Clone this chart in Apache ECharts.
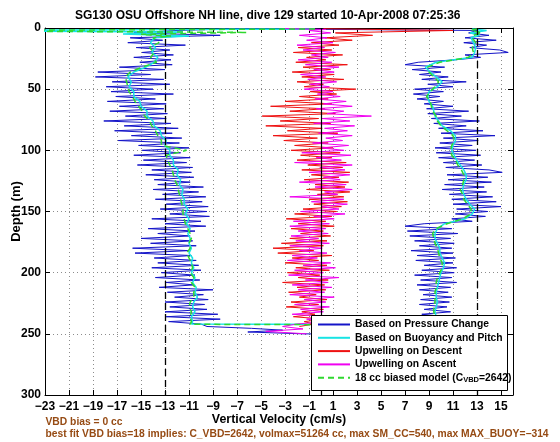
<!DOCTYPE html>
<html>
<head>
<meta charset="utf-8">
<script src="https://cdn.jsdelivr.net/npm/echarts@6/dist/echarts.min.js"></script>
<style>
html,body{margin:0;padding:0;background:#fff;}
#chart{width:560px;height:442px;}
</style>
</head>
<body>
<div id="chart"></div>
<script>
// ---------- data ----------
const titleText = 'SG130 OSU Offshore NH line, dive 129 started 10-Apr-2008 07:25:36';
const seriesNames = ['Based on Pressure Change', 'Based on Buoyancy and Pitch', 'Upwelling on Descent', 'Upwelling on Ascent', '18 cc biased model (C_VBD=2642)'];
const xTicks = [-23,-21,-19,-17,-15,-13,-11,-9,-7,-5,-3,-1,1,3,5,7,9,11,13,15];
const refLines = [-13, 13];

// fine depth grid (m) for the pressure-based and upwelling traces
const depthsFine = [2,4,6,8,10,12,14,16,18,20,
 22,24,26,28,30,32,34,36,38,40,
 42,44,46,48,50,52,54,56,58,60,
 62,64,66,68,70,72,74,76,78,80,
 82,84,86,88,90,92,94,96,98,100,
 102,104,106,108,110,112,114,116,118,120,
 122,124,126,128,130,132,134,136,138,140,
 142,144,146,148,150,152,154,156,158,160,
 162,164,166,168,170,172,174,176,178,180,
 182,184,186,188,190,192,194,196,198,200,
 202,204,206,208,210,212,214,216,218,220,
 222,224,226,228,230,232,234,236,238,240,
 242];
// coarse depth grid (m) for the model traces
const depthsCoarse = [8,12,16,20,24,28,32,36,40,44,
 48,52,56,60,64,68,72,76,80,84,
 88,92,96,100,104,108,112,116,120,124,
 128,132,136,140,144,148,152,156,160,164,
 168,172,176,180,184,188,192,196,200,204,
 208,212,216,220,224,228,232,236,240];

// Based on Pressure Change (cm/s)
const blueTopDepth = [0.6], blueTopVel = [-7.0];
const blueDown = [-12.0,-15.6,-8.4,-15.9,-13.2,-16.1,-11.3,-15.4,-12.6,-14.9,
 -12.3,-15.6,-12.5,-15.1,-12.4,-16.8,-13.0,-18.6,-14.2,-18.8,
 -13.1,-17.4,-12.6,-17.9,-14.0,-17.5,-12.3,-17.1,-13.8,-17.8,
 -12.9,-16.8,-13.1,-17.6,-12.8,-16.3,-12.9,-18.1,-12.5,-16.4,
 -11.9,-17.2,-12.4,-15.8,-11.6,-16.9,-11.8,-15.2,-11.0,-14.9,
 -11.7,-15.6,-10.9,-14.8,-11.2,-15.3,-10.7,-14.1,-10.8,-14.6,
 -10.6,-13.9,-10.9,-13.6,-9.8,-14.0,-10.2,-13.2,-9.6,-13.8,
 -9.9,-12.9,-9.4,-13.4,-9.5,-12.6,-9.3,-14.1,-10.0,-13.0,
 -9.6,-14.4,-10.5,-13.6,-10.9,-15.0,-10.7,-14.2,-10.4,-15.7,
 -11.0,-15.5,-10.8,-13.9,-10.4,-13.6,-10.2,-14.1,-10.0,-13.3,
 -10.5,-13.8,-10.1,-12.9,-10.6,-13.5,-9.0,-12.8,-9.8,-12.2,
 -9.4,-13.0,-9.7,-12.6,-9.5,-13.0,-8.6,-12.9,-8.4,-12.7,
 -10.0];
const blueBottomDepth = [244,245.5,247,248.5,250,250.5,249,246.5,244];
const blueBottomVel = [-9.5,-5.8,-3.2,-6.1,-1.5,3.5,7.5,9.6,8.6];
const blueUp = [13.0,12.3,14.0,12.0,14.6,11.9,13.8,12.4,14.9,15.6,
 12.0,13.3,11.2,8.1,7.0,10.3,7.6,10.0,8.2,10.6,
 8.4,12.1,8.9,11.0,7.8,10.2,7.7,9.9,8.0,10.2,
 8.6,11.0,8.8,12.3,8.9,11.7,9.2,13.2,9.4,12.1,
 9.8,13.5,10.0,14.5,10.2,13.1,9.9,12.6,9.5,12.9,
 9.6,13.3,9.8,12.8,10.2,13.4,10.4,14.0,15.1,10.5,
 13.9,10.6,14.2,10.3,13.6,10.1,13.8,10.7,14.3,10.9,
 14.6,11.0,15.0,11.3,13.9,11.2,13.7,10.9,12.6,8.6,
 7.0,10.9,7.2,11.4,7.4,10.8,7.8,11.1,8.2,10.9,
 7.5,11.0,8.0,11.2,7.9,11.0,8.6,11.3,8.4,11.1,
 7.8,10.9,8.3,11.3,8.0,10.8,8.2,10.6,8.5,10.9,
 8.3,10.7,8.2,10.5,8.6,10.8,8.4,10.4,8.7,10.2,
 9.0];
const blueEndDepth = [0.6], blueEndVel = [-7.0];

// Based on Buoyancy and Pitch (cm/s)
const cyanTopDepth = [0.8,2.0,3.2,5.0,6.5], cyanTopVel = [-0.5,-35,-11.5,-16.5,-11.0];
const cyanDown = [-13.9,-14.2,-13.8,-14.1,-13.6,-13.9,-14.6,-15.6,-16.1,-15.8,
 -16.0,-15.6,-15.6,-15.1,-15.0,-14.5,-14.5,-14.0,-13.9,-13.4,
 -13.3,-12.9,-13.0,-12.6,-12.6,-12.3,-12.3,-11.9,-12.0,-11.7,
 -11.8,-11.5,-11.6,-11.4,-11.4,-11.1,-11.3,-11.0,-11.2,-10.9,
 -11.1,-10.9,-11.0,-10.8,-11.0,-10.7,-10.8,-10.6,-10.8,-10.5,
 -10.7,-10.4,-10.5,-10.3,-10.6,-10.7,-10.5,-10.8,-10.7];
const cyanBottomDepth = [242,242.6], cyanBottomVel = [-10.8,9.4];
const cyanUp = [12.5,12.7,12.9,12.8,12.6,9.6,8.7,9.1,9.6,10.1,
 9.7,9.0,8.9,9.0,9.3,9.4,9.5,9.8,10.1,10.8,
 11.2,11.2,11.0,10.9,11.1,11.3,11.6,11.9,12.1,12.1,
 11.9,11.8,11.9,12.1,12.4,12.8,12.6,12.0,10.3,9.7,
 9.5,9.5,9.7,9.9,9.9,10.1,10.3,10.2,10.0,9.9,
 9.8,9.7,9.6,9.6,9.7,9.6,9.5,9.6,9.5];
const cyanEndDepth = [6,4,2,0.8], cyanEndVel = [13.2,12.4,13.8,12.6];

// Upwelling on Descent (cm/s)
const redTopDepth = [0.6], redTopVel = [0.2];
const redDown = [11.0,1.2,4.3,0.3,2.6,-0.8,1.5,-1.9,0.9,-2.3,
 1.8,-1.2,0.4,-2.1,2.2,-1.5,0.8,-2.4,1.1,-1.6,
 1.9,-2.0,0.2,-1.4,2.9,-0.9,1.3,-1.8,0.6,-3.0,
 0.9,-4.2,0.3,-2.6,1.2,-4.9,-0.2,-3.4,0.8,-4.6,
 0.1,-2.8,1.4,-4.0,-0.3,-3.1,0.6,-2.2,1.0,-2.5,
 1.6,-1.7,0.9,-2.0,2.1,-1.1,1.8,-1.6,2.4,-0.8,
 1.5,-1.4,2.3,-0.5,2.0,-1.2,2.4,-0.3,1.9,-1.0,
 2.2,-0.6,1.7,-1.5,1.3,-2.2,0.9,-2.9,0.4,-1.9,
 1.1,-2.5,0.2,-1.7,0.8,-2.6,0.5,-3.3,0.2,-4.0,
 -0.6,-3.6,0.9,-2.4,-0.2,-3.0,0.5,-2.1,0.7,-2.8,
 -0.1,-1.9,0.6,-3.2,0.3,-2.0,0.4,-2.7,-0.4,-1.8,
 0.5,-2.5,-0.2,-2.9,0.2,-1.6,-0.5,-2.3,0.3,-1.4,
 -0.6];
const redBottomDepth = [244], redBottomVel = [-1.8];

// Upwelling on Ascent (cm/s)
const magBottomDepth = [250,248,246,244], magBottomVel = [-1.2,-4.6,-1.5,-3.2];
const magUp = [-1.0,0.8,-1.8,0.5,-1.2,1.0,-2.0,0.3,-1.5,1.2,
 -0.8,0.6,-1.9,0.9,-1.3,1.5,-0.6,1.1,-1.7,0.4,
 -1.1,1.3,-0.9,0.7,-1.4,1.0,-0.3,1.6,-0.5,2.1,
 0.2,2.6,-0.4,1.9,0.5,4.2,0.1,2.4,-0.6,2.8,
 0.3,2.2,-0.2,2.6,0.4,1.8,-0.7,2.3,0.0,1.9,
 -1.6,2.5,-0.4,1.7,-2.2,2.6,-0.1,2.0,-1.0,2.4,
 0.2,1.6,-1.8,2.1,-0.5,2.6,0.3,1.4,-2.6,1.9,
 -0.8,2.2,0.0,1.5,-1.7,2.0,-0.6,1.1,-2.3,0.7,
 -2.6,0.4,-1.9,0.6,-2.5,-0.2,-2.1,0.7,-2.6,0.1,
 -1.8,0.5,-2.4,-0.3,-2.8,0.8,-1.5,1.2,-2.2,0.2,
 -2.7,1.5,-1.3,0.6,-2.4,0.9,-1.9,0.3,-2.6,1.1,
 -1.4,0.4,-2.2,0.7,-1.7,0.2,-2.4,0.9,-1.2,0.3,
 -2.0];
const magEndDepth = [1.2,0.5], magEndVel = [0.4,-3.0];

// 18 cc biased model (cm/s)
const greenTopDepth = [0.8,2.2,3.6,5.2,6.6], greenTopVel = [-0.5,-35,-6.2,-15.0,-12.5];
const greenDown = [-14.0,-13.5,-14.3,-13.9,-14.2,-13.7,-14.9,-15.9,-16.3,-16.2,
 -16.1,-16.0,-15.7,-15.5,-15.2,-14.9,-14.7,-14.3,-14.1,-13.8,
 -13.6,-13.3,-13.3,-11.2,-12.9,-12.8,-12.6,-12.4,-12.3,-12.2,
 -12.0,-11.9,-11.8,-11.7,-11.6,-11.5,-11.5,-11.4,-11.3,-11.1,
 -10.9,-10.8,-11.0,-10.9,-11.2,-11.0,-10.8,-10.7,-10.9,-10.6,
 -10.8,-10.5,-10.6,-10.6,-10.9,-11.0,-10.8,-10.9,-10.8];
const greenBottomDepth = [242.2,242.8], greenBottomVel = [-10.9,9.3];
const greenUp = [12.6,12.9,12.6,12.7,12.3,9.9,8.9,9.0,9.4,9.8,
 9.5,9.1,8.8,9.1,9.2,9.3,9.6,9.7,10.0,10.5,
 11.0,11.1,10.9,10.8,10.9,11.2,11.4,11.7,11.9,11.9,
 11.8,11.6,11.8,11.9,12.2,12.5,12.5,11.8,10.5,9.6,
 9.3,9.4,9.5,9.7,9.8,9.9,10.1,10.1,9.9,9.7,
 9.6,9.6,9.5,9.5,9.5,9.4,9.4,9.5,9.4];
const greenEndDepth = [6,4,2,0.8], greenEndVel = [12.7,13.4,12.5,13.0];

const noteLine1 = 'VBD bias = 0 cc';
const noteLine2 = 'best fit VBD bias=18 implies: C_VBD=2642, volmax=51264 cc, max SM_CC=540, max MAX_BUOY=\u2212314';

// ---------- build ----------
function pts(depths, vels) { return depths.map((d, i) => [vels[i], d]); }
const blueLine = [].concat(pts(blueTopDepth, blueTopVel), pts(depthsFine, blueDown),
  pts(blueBottomDepth, blueBottomVel), pts(depthsFine, blueUp).reverse(), pts(blueEndDepth, blueEndVel));
const cyanLine = [].concat(pts(cyanTopDepth, cyanTopVel), pts(depthsCoarse, cyanDown),
  pts(cyanBottomDepth, cyanBottomVel), pts(depthsCoarse, cyanUp).reverse(), pts(cyanEndDepth, cyanEndVel));
const redLine = [].concat(pts(redTopDepth, redTopVel), pts(depthsFine, redDown), pts(redBottomDepth, redBottomVel));
const magLine = [].concat(pts(magBottomDepth, magBottomVel), pts(depthsFine, magUp).reverse(), pts(magEndDepth, magEndVel));
const greenLine = [].concat(pts(greenTopDepth, greenTopVel), pts(depthsCoarse, greenDown),
  pts(greenBottomDepth, greenBottomVel), pts(depthsCoarse, greenUp).reverse(), pts(greenEndDepth, greenEndVel));

const FONT = '"Liberation Sans", Arial, Helvetica, sans-serif';
const fmt = v => (v < 0 ? '\u2212' + Math.abs(v) : String(v));
const gridLine = { show: true, lineStyle: { color: '#8c8c8c', width: 1, type: [1, 3] } };

const chart = echarts.init(document.getElementById('chart'), null, { renderer: 'canvas' });
function mk(name, data, color, width, extra) {
  return Object.assign({
    name: name, type: 'line', data: data, symbol: 'none', showSymbol: false,
    lineStyle: { color: color, width: width }, itemStyle: { color: color },
    animation: false, clip: true, sampling: null, z: 2
  }, extra || {});
}
chart.setOption({
  animation: false,
  backgroundColor: '#fff',
  title: {
    text: titleText, left: 70, top: 5,
    textStyle: { fontFamily: FONT, fontSize: 12, fontWeight: 'bold', color: '#000' }
  },
  grid: { left: 45, right: 47, top: 28, bottom: 47, outerBoundsMode: 'none', containLabel: false },
  xAxis: [{
    type: 'value', min: -23, max: 16, position: 'bottom',
    name: 'Vertical Velocity (cm/s)', nameLocation: 'middle', nameGap: 19, nameMoveOverlap: false,
    nameTextStyle: { fontFamily: FONT, fontSize: 12.4, fontWeight: 'bold', color: '#000' },
    axisLine: { show: true, onZero: false, lineStyle: { color: '#000', width: 1 } },
    axisTick: { show: true, inside: true, length: 5, customValues: xTicks, lineStyle: { color: '#000' } },
    axisLabel: { show: true, customValues: xTicks, formatter: fmt, margin: 6,
      fontFamily: FONT, fontSize: 12, fontWeight: 'bold', color: '#000' },
    splitLine: gridLine
  }, {
    type: 'value', min: -23, max: 16, position: 'top',
    axisLine: { show: true, onZero: false, lineStyle: { color: '#000', width: 1 } },
    axisTick: { show: true, inside: true, length: 5, customValues: xTicks, lineStyle: { color: '#000' } },
    axisLabel: { show: false }, splitLine: { show: false }
  }],
  yAxis: [{
    type: 'value', min: 0, max: 300, interval: 50, inverse: true, position: 'left',
    name: 'Depth (m)', nameLocation: 'middle', nameGap: 22, nameMoveOverlap: false,
    nameTextStyle: { fontFamily: FONT, fontSize: 13, fontWeight: 'bold', color: '#000' },
    axisLine: { show: true, onZero: false, lineStyle: { color: '#000', width: 1 } },
    axisTick: { show: true, inside: true, length: 5, lineStyle: { color: '#000' } },
    axisLabel: { show: true, margin: 4, fontFamily: FONT, fontSize: 12, fontWeight: 'bold', color: '#000' },
    splitLine: gridLine
  }, {
    type: 'value', min: 0, max: 300, interval: 50, inverse: true, position: 'right',
    axisLine: { show: true, onZero: false, lineStyle: { color: '#000', width: 1 } },
    axisTick: { show: true, inside: true, length: 5, lineStyle: { color: '#000' } },
    axisLabel: { show: false }, splitLine: { show: false }
  }],
  legend: {
    orient: 'vertical', left: 317, top: 318, padding: 0, itemGap: 0.3,
    itemWidth: 32, itemHeight: 10, selectedMode: false, z: 10,
    itemStyle: { color: 'rgba(0,0,0,0)', borderColor: 'rgba(0,0,0,0)', borderWidth: 0, opacity: 0 },
    data: seriesNames,
    formatter: function (n) {
      return n === seriesNames[4] ? '18 cc biased model (C{sub|VBD}=2642)' : n;
    },
    textStyle: {
      fontFamily: FONT, fontSize: 10.3, fontWeight: 'bold', color: '#000', lineHeight: 13,
      rich: { sub: { fontFamily: FONT, fontSize: 7.5, fontWeight: 'bold', color: '#000', lineHeight: 8, padding: [5, 0, 0, 0] } }
    }
  },
  graphic: [
    { type: 'rect', z: 8, shape: { x: 311.5, y: 315.5, width: 196, height: 75 },
      style: { fill: '#fff', stroke: '#000', lineWidth: 1 } },
    { type: 'text', z: 8, x: 45.5, y: 417, style: { text: noteLine1, font: 'bold 10.3px ' + FONT, fill: '#964b14' } },
    { type: 'text', z: 8, x: 45.5, y: 429, style: { text: noteLine2, font: 'bold 10.3px ' + FONT, fill: '#964b14' } }
  ],
  series: [
    mk(seriesNames[0], blueLine, '#1414c8', 1),
    mk(seriesNames[1], cyanLine, '#18e4e4', 1.5),
    mk(seriesNames[2], redLine, '#ee1111', 1),
    mk(seriesNames[3], magLine, '#f000f0', 1),
    mk(seriesNames[4], greenLine, '#2fd82f', 1.5, {
      lineStyle: { color: '#2fd82f', width: 1.5, type: [6, 4] },
      markLine: {
        silent: true, symbol: 'none', animation: false, label: { show: false },
        lineStyle: { color: '#000', width: 1.3, type: [7, 4] },
        data: refLines.map(v => ({ xAxis: v })).concat([{ xAxis: 0, lineStyle: { color: '#000', width: 1.2, type: 'solid' } }])
      }
    })
  ]
});
</script>
</body>
</html>
